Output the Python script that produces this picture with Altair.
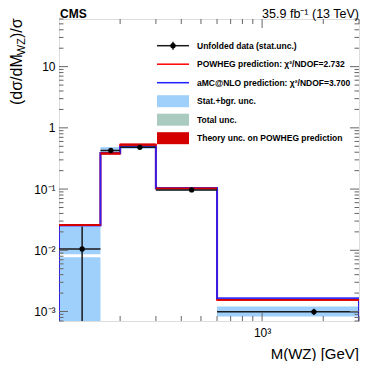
import altair as alt
import pandas as pd

# ---------------- data ----------------
edges = [100, 160, 200, 300, 600, 3000]
centers = [130, 180, 250, 450, 1800]

data_val = [0.0105, 0.427, 0.48, 0.097, 0.00099]
data_err_lo = [0.0001, 0.405, 0.455, 0.094, 0.00088]
data_err_hi = [0.0245, 0.45, 0.505, 0.100, 0.00111]

powheg = [0.026, 0.38, 0.53, 0.102, 0.00155]
amcnlo = [0.0255, 0.388, 0.49, 0.104, 0.00165]
theory_lo = [0.0250, 0.365, 0.51, 0.099, 0.00150]
theory_hi = [0.0268, 0.40, 0.556, 0.106, 0.00160]

stat_bin = [0, 0, 1, 2, 3, 4]
stat_lo = [0.0086, 0.0001, 0.37, 0.455, 0.094, 0.00083]
stat_hi = [0.0245, 0.0077, 0.484, 0.505, 0.100, 0.00121]

total_bin = [2]
total_lo = [0.47]
total_hi = [0.50]

y_tick_values = [0.001, 0.01, 0.1, 1, 10]
y_tick_labels = ["10⁻³", "10⁻²", "10⁻¹", "1", "10"]
x_tick_values = [1000]
x_tick_labels = ["10³"]
x_minor = [200, 300, 400, 500, 600, 700, 800, 900, 2000, 3000]

legend_labels = [
    "Unfolded data (stat.unc.)",
    "POWHEG prediction: χ²/NDOF=2.732",
    "aMC@NLO prediction: χ²/NDOF=3.700",
    "Stat.+bgr. unc.",
    "Total unc.",
    "Theory unc. on POWHEG prediction",
]

# ---------------- style ----------------
W, H = 300, 302
YDOM = [7e-4, 60]
XDOM = [100, 3000]
FONT = "Liberation Sans"
C_STAT = "#9fcffb"
C_TOTAL = "#a9cbc0"
C_THEORY = "#d40000"
C_POW = "#ff0000"
C_AMC = "#2020ff"
C_FRAME = "#808080"

xs = alt.Scale(type="log", domain=XDOM, nice=False)
ys = alt.Scale(type="log", domain=YDOM, nice=False)


def cond_expr(values, labels):
    expr = "''"
    for v, l in zip(values, labels):
        expr = f"abs(datum.value - {v}) < {v}*0.01 ? '{l}' : ({expr})"
    return expr


y_axis = alt.Axis(values=y_tick_values, labelExpr=cond_expr(y_tick_values, y_tick_labels),
                  ticks=False, domain=False, grid=False, title=None, labelFont=FONT,
                  labelFontSize=12, labelPadding=4, labelColor="black")
x_axis = alt.Axis(values=x_tick_values, labelExpr=cond_expr(x_tick_values, x_tick_labels),
                  ticks=False, domain=False, grid=False, title=None, labelFont=FONT,
                  labelFontSize=12, labelPadding=6, labelColor="black")


def X(f):
    return alt.X(f, type="quantitative", scale=xs, axis=x_axis)


def Y(f):
    return alt.Y(f, type="quantitative", scale=ys, axis=y_axis)


# ---------------- tables ----------------
stat_df = pd.DataFrame({
    "x0": [edges[b] for b in stat_bin], "x1": [edges[b + 1] for b in stat_bin],
    "lo": stat_lo, "hi": stat_hi})
total_df = pd.DataFrame({
    "x0": [edges[b] for b in total_bin], "x1": [edges[b + 1] for b in total_bin],
    "lo": total_lo, "hi": total_hi})
theory_df = pd.DataFrame({"x0": edges[:-1], "x1": edges[1:], "lo": theory_lo, "hi": theory_hi})


def step_df(vals):
    rows = [{"x": edges[0], "y": 1e-5}]
    for i, v in enumerate(vals):
        rows.append({"x": edges[i], "y": v})
        rows.append({"x": edges[i + 1], "y": v})
    rows.append({"x": edges[-1], "y": 1e-5})
    df = pd.DataFrame(rows)
    df["o"] = range(len(df))
    return df


data_df = pd.DataFrame({"x0": edges[:-1], "x1": edges[1:], "c": centers, "v": data_val,
                        "lo": data_err_lo, "hi": data_err_hi})

layers = []

layers.append(alt.Chart(stat_df).mark_rect(clip=True, color=C_STAT).encode(
    x=X("x0"), x2="x1", y=Y("lo"), y2="hi"))
layers.append(alt.Chart(total_df).mark_rect(clip=True, color=C_TOTAL).encode(
    x=X("x0"), x2="x1", y=Y("lo"), y2="hi"))
layers.append(alt.Chart(step_df(powheg)).mark_line(clip=True, color=C_POW, strokeWidth=2).encode(
    x=X("x"), y=Y("y"), order="o:Q"))
layers.append(alt.Chart(step_df(amcnlo)).mark_line(clip=True, color=C_AMC, strokeWidth=2, opacity=0.9).encode(
    x=X("x"), y=Y("y"), order="o:Q"))
layers.append(alt.Chart(theory_df).mark_rect(clip=True, color=C_THEORY).encode(
    x=X("x0"), x2="x1", y=Y("lo"), y2="hi"))
layers.append(alt.Chart(data_df).mark_rule(clip=True, color="#1a1a1a", strokeWidth=1.5).encode(
    x=X("x0"), x2="x1", y=Y("v")))
layers.append(alt.Chart(data_df).mark_rule(clip=True, color="#1a1a1a", strokeWidth=1.5).encode(
    x=X("c"), y=Y("lo"), y2="hi"))
layers.append(alt.Chart(data_df).mark_point(filled=True, shape="circle", size=28, color="black", opacity=1).encode(
    x=X("c"), y=Y("v")))

# ROOT-style inner ticks on all sides
y_minor = [k * 10.0 ** e for e in range(-4, 2) for k in range(2, 10)
           if YDOM[0] <= k * 10.0 ** e <= YDOM[1]]
ymaj_df = pd.DataFrame({"v": y_tick_values})
ymin_df = pd.DataFrame({"v": y_minor})
xmaj_df = pd.DataFrame({"v": x_tick_values})
xmin_df = pd.DataFrame({"v": x_minor})
TC = "#666666"
for df, ln in [(ymaj_df, 9), (ymin_df, 4.5)]:
    layers.append(alt.Chart(df).mark_rule(color=TC, strokeWidth=1).encode(
        y=Y("v"), x=alt.value(0), x2=alt.value(ln)))
    layers.append(alt.Chart(df).mark_rule(color=TC, strokeWidth=1).encode(
        y=Y("v"), x=alt.value(W), x2=alt.value(W - ln)))
for df, ln in [(xmaj_df, 9), (xmin_df, 5)]:
    layers.append(alt.Chart(df).mark_rule(color=TC, strokeWidth=1).encode(
        x=X("v"), y=alt.value(H), y2=alt.value(H - ln)))
    layers.append(alt.Chart(df).mark_rule(color=TC, strokeWidth=1).encode(
        x=X("v"), y=alt.value(0), y2=alt.value(ln)))

# ---------------- legend ----------------
LX0, LX1, LTX, LY0, LDY = 98, 130, 138, 26.7, 18.5
for i, lab in enumerate(legend_labels):
    ly = LY0 + i * LDY
    one = pd.DataFrame({"t": [lab]})
    if i == 0:
        layers.append(alt.Chart(one).mark_rule(color="#1a1a1a", strokeWidth=1.5).encode(
            x=alt.value(LX0), x2=alt.value(LX1), y=alt.value(ly)))
        layers.append(alt.Chart(one).mark_rule(color="#1a1a1a", strokeWidth=1.5).encode(
            x=alt.value((LX0 + LX1) / 2), y=alt.value(ly - 4), y2=alt.value(ly + 4)))
        layers.append(alt.Chart(one).mark_point(filled=True, shape="circle", size=28, color="black", opacity=1).encode(
            x=alt.value((LX0 + LX1) / 2), y=alt.value(ly)))
    elif i in (1, 2):
        layers.append(alt.Chart(one).mark_rule(color=[C_POW, C_AMC][i - 1], strokeWidth=1.5).encode(
            x=alt.value(LX0), x2=alt.value(LX1), y=alt.value(ly)))
    else:
        col = [C_STAT, C_TOTAL, C_THEORY][i - 3]
        layers.append(alt.Chart(one).mark_rect(color=col).encode(
            x=alt.value(LX0), x2=alt.value(LX1), y=alt.value(ly - 6), y2=alt.value(ly + 6)))
    layers.append(alt.Chart(one).mark_text(font=FONT, fontWeight="bold", fontSize=8.5, align="left",
                                           baseline="middle", color="black").encode(
        x=alt.value(LTX), y=alt.value(ly), text="t:N"))


# ---------------- titles ----------------
def txt(s, x, y, size, **kw):
    return alt.Chart(pd.DataFrame({"t": [s]})).mark_text(font=FONT, fontSize=size, color="black", **kw).encode(
        x=alt.value(x), y=alt.value(y), text="t:N")


layers.append(txt("CMS", 1, -1, 12, fontWeight="bold", align="left", baseline="alphabetic"))
layers.append(txt("35.9 fb⁻¹ (13 TeV)", W, -1.5, 12.5, align="right", baseline="alphabetic"))
layers.append(txt("M(WZ) [GeV]", W, 340, 15, align="right", baseline="alphabetic"))
YT_BOT = 86
w1 = 3.112 * 16
w2 = 1.555 * 11
layers.append(txt("(dσ/dM", -37, YT_BOT, 16, angle=270, align="left", baseline="alphabetic"))
layers.append(txt("WZ", -34, YT_BOT - w1, 11, angle=270, align="left", baseline="alphabetic"))
layers.append(txt(")/σ", -37, YT_BOT - w1 - w2, 16, angle=270, align="left", baseline="alphabetic"))

chart = alt.layer(*layers).properties(
    width=W, height=H,
    autosize=alt.AutoSizeParams(type="none"),
    padding={"left": 51, "top": 11, "right": 7, "bottom": 40},
).configure_view(stroke=C_FRAME, strokeWidth=2).configure(background="white")

chart.save("out.html", embed_options={"renderer": "svg", "actions": False})
